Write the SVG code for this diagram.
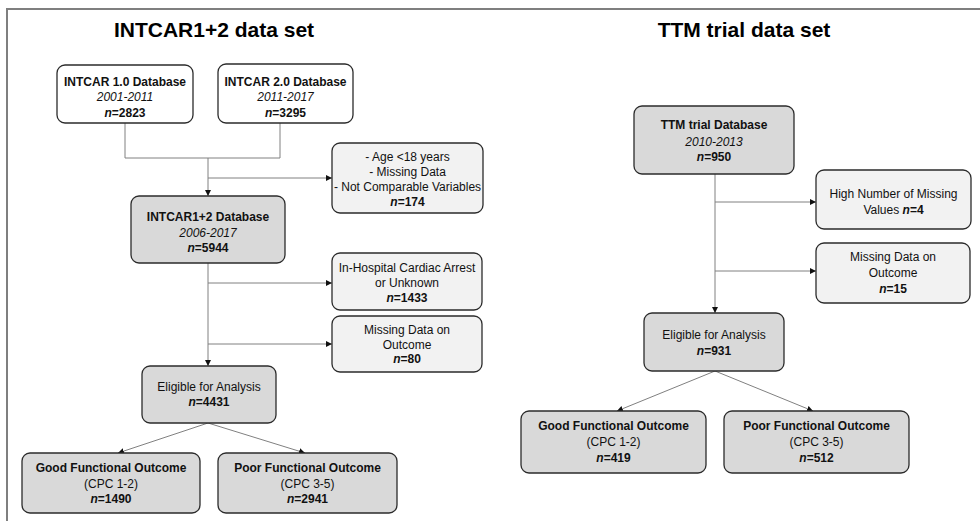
<svg xmlns="http://www.w3.org/2000/svg" width="980" height="521" viewBox="0 0 980 521">
  <defs>
    <marker id="arrow" markerUnits="userSpaceOnUse" markerWidth="7" markerHeight="7" refX="6" refY="3" orient="auto">
      <path d="M0,0 L6,3 L0,6 z" fill="#111"/>
    </marker>
    <style>
      .frame { fill: none; stroke: #7f7f7f; stroke-width: 2; }
      .title { font-family: "Liberation Sans", Arial, sans-serif; font-weight: bold; font-size: 21px; fill: #000; text-anchor: middle; }
      .box { stroke: #2b2b2b; stroke-width: 1.3; }
      .white { fill: #ffffff; }
      .light { fill: #f2f2f2; }
      .gray { fill: #d9d9d9; }
      .t { font-family: "Liberation Sans", Arial, sans-serif; font-size: 12px; fill: #111; text-anchor: middle; }
      .b { font-weight: bold; }
      .i { font-style: italic; }
      .link { fill: none; stroke: #808080; stroke-width: 1; }
      .arr { marker-end: url(#arrow); }
    </style>
  </defs>

  <!-- panel frame -->
  <path class="frame" d="M7,521 V9 H980"/>

  <text class="title" x="214" y="37">INTCAR1+2 data set</text>
  <text class="title" x="744" y="37">TTM trial data set</text>

  <!-- connectors -->
  <g id="connectors">
    <path class="link" d="M125,123 V158 H280 V123"/>
    <path class="link arr" d="M208,158 V196"/>
    <path class="link arr" d="M208,178 H332"/>
    <path class="link arr" d="M208,263 V366"/>
    <path class="link arr" d="M208,283 H332"/>
    <path class="link arr" d="M208,344 H332"/>
    <path class="link arr" d="M208,423 L118,453"/>
    <path class="link arr" d="M208,423 L305,453"/>

    <path class="link arr" d="M715,174 V313"/>
    <path class="link arr" d="M715,202 H816"/>
    <path class="link arr" d="M715,271 H816"/>
    <path class="link arr" d="M715,371 L617,411"/>
    <path class="link arr" d="M715,371 L813,411"/>
  </g>

  <!-- INTCAR1+2 data set -->
  <g id="intcar1">
    <rect class="box white" x="57" y="65" width="136" height="58" rx="8"/>
    <text class="t b" x="125" y="86">INTCAR 1.0 Database</text>
    <text class="t i" x="125" y="101">2001-2011</text>
    <text class="t b" x="125" y="117"><tspan class="i">n</tspan>=2823</text>
  </g>
  <g id="intcar2">
    <rect class="box white" x="218" y="64" width="135" height="59" rx="8"/>
    <text class="t b" x="285.5" y="86">INTCAR 2.0 Database</text>
    <text class="t i" x="285.5" y="101">2011-2017</text>
    <text class="t b" x="285.5" y="117"><tspan class="i">n</tspan>=3295</text>
  </g>
  <g id="excl-intcar">
    <rect class="box light" x="332" y="143" width="151" height="70" rx="8"/>
    <text class="t" x="407.5" y="161">- Age &lt;18 years</text>
    <text class="t" x="407.5" y="176">- Missing Data</text>
    <text class="t" x="407.5" y="191">- Not Comparable Variables</text>
    <text class="t b" x="407.5" y="206"><tspan class="i">n</tspan>=174</text>
  </g>
  <g id="intcar12">
    <rect class="box gray" x="131" y="196" width="154" height="67" rx="8"/>
    <text class="t b" x="208" y="221">INTCAR1+2 Database</text>
    <text class="t i" x="208" y="237">2006-2017</text>
    <text class="t b" x="208" y="252"><tspan class="i">n</tspan>=5944</text>
  </g>
  <g id="ihca">
    <rect class="box light" x="332" y="253" width="150" height="57" rx="8"/>
    <text class="t" x="407" y="272">In-Hospital Cardiac Arrest</text>
    <text class="t" x="407" y="287">or Unknown</text>
    <text class="t b" x="407" y="302"><tspan class="i">n</tspan>=1433</text>
  </g>
  <g id="missing-intcar">
    <rect class="box light" x="332" y="316" width="150" height="56" rx="8"/>
    <text class="t" x="407" y="334">Missing Data on</text>
    <text class="t" x="407" y="349">Outcome</text>
    <text class="t b" x="407" y="363"><tspan class="i">n</tspan>=80</text>
  </g>
  <g id="eligible-intcar">
    <rect class="box gray" x="142" y="366" width="134" height="57" rx="8"/>
    <text class="t" x="209" y="391">Eligible for Analysis</text>
    <text class="t b" x="209" y="406"><tspan class="i">n</tspan>=4431</text>
  </g>
  <g id="good-intcar">
    <rect class="box gray" x="22" y="453" width="178" height="60" rx="8"/>
    <text class="t b" x="111" y="472">Good Functional Outcome</text>
    <text class="t" x="111" y="488">(CPC 1-2)</text>
    <text class="t b" x="111" y="503"><tspan class="i">n</tspan>=1490</text>
  </g>
  <g id="poor-intcar">
    <rect class="box gray" x="218" y="453" width="179" height="60" rx="8"/>
    <text class="t b" x="307.5" y="472">Poor Functional Outcome</text>
    <text class="t" x="307.5" y="488">(CPC 3-5)</text>
    <text class="t b" x="307.5" y="503"><tspan class="i">n</tspan>=2941</text>
  </g>

  <!-- TTM trial data set -->
  <g id="ttm">
    <rect class="box gray" x="634" y="106" width="160" height="68" rx="8"/>
    <text class="t b" x="714" y="129">TTM trial Database</text>
    <text class="t i" x="714" y="146">2010-2013</text>
    <text class="t b" x="714" y="161"><tspan class="i">n</tspan>=950</text>
  </g>
  <g id="high-missing">
    <rect class="box light" x="816" y="170" width="155" height="59" rx="8"/>
    <text class="t" x="893.5" y="198">High Number of Missing</text>
    <text class="t" x="893.5" y="214">Values <tspan class="b"><tspan class="i">n</tspan>=4</tspan></text>
  </g>
  <g id="missing-ttm">
    <rect class="box light" x="816" y="243" width="154" height="60" rx="8"/>
    <text class="t" x="893" y="261">Missing Data on</text>
    <text class="t" x="893" y="277">Outcome</text>
    <text class="t b" x="893" y="293"><tspan class="i">n</tspan>=15</text>
  </g>
  <g id="eligible-ttm">
    <rect class="box gray" x="644" y="313" width="140" height="58" rx="8"/>
    <text class="t" x="714" y="339">Eligible for Analysis</text>
    <text class="t b" x="714" y="355"><tspan class="i">n</tspan>=931</text>
  </g>
  <g id="good-ttm">
    <rect class="box gray" x="521" y="411" width="185" height="62" rx="8"/>
    <text class="t b" x="613.5" y="430">Good Functional Outcome</text>
    <text class="t" x="613.5" y="446">(CPC 1-2)</text>
    <text class="t b" x="613.5" y="462"><tspan class="i">n</tspan>=419</text>
  </g>
  <g id="poor-ttm">
    <rect class="box gray" x="724" y="411" width="185" height="62" rx="8"/>
    <text class="t b" x="816.5" y="430">Poor Functional Outcome</text>
    <text class="t" x="816.5" y="446">(CPC 3-5)</text>
    <text class="t b" x="816.5" y="462"><tspan class="i">n</tspan>=512</text>
  </g>
</svg>
